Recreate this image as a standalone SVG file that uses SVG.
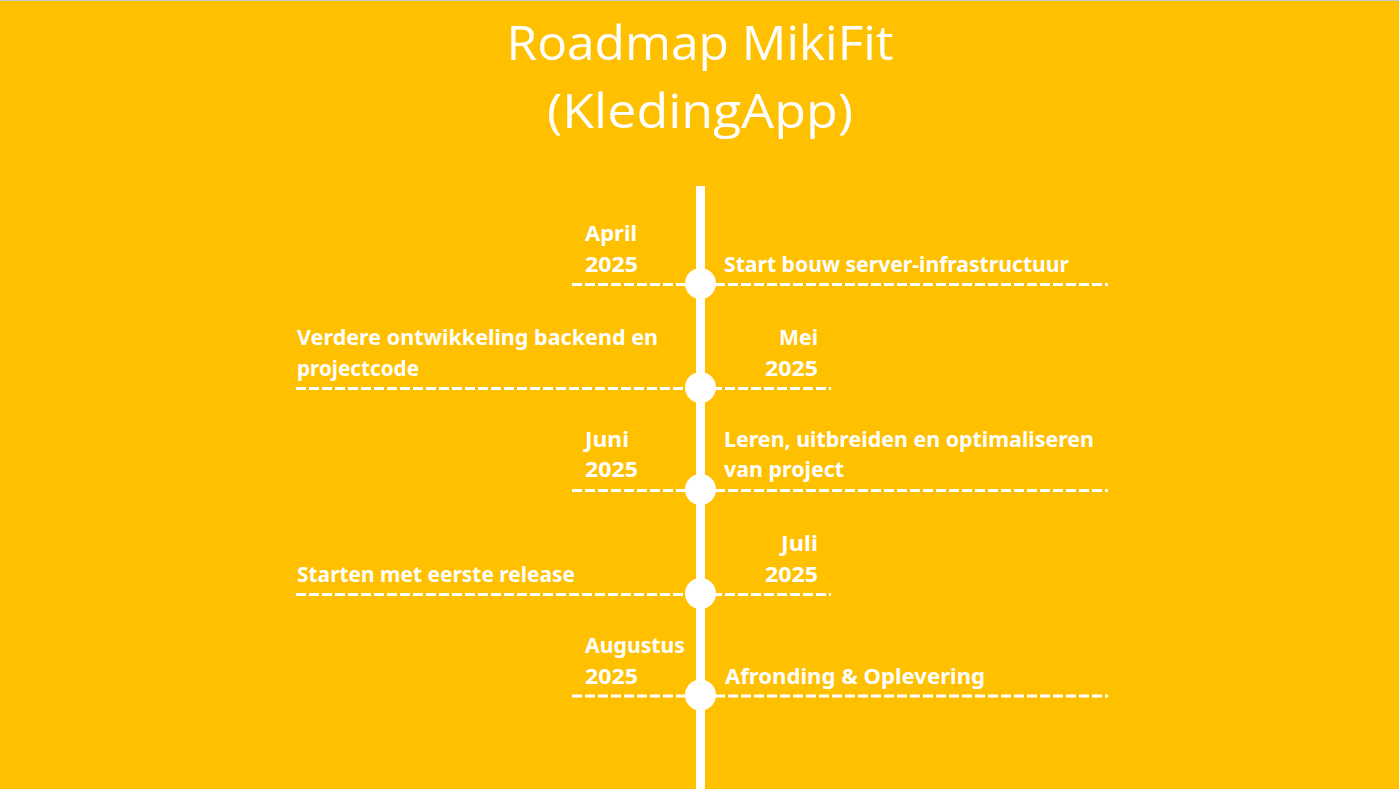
<svg xmlns="http://www.w3.org/2000/svg" width="1399" height="789" viewBox="0 0 1399 789">
<style>
.title{font-family:"Open Sans","Liberation Sans",sans-serif;font-size:48px;fill:#fff;text-anchor:middle}
.t{font-family:"Noto Sans","Liberation Sans",sans-serif;font-weight:bold;font-size:21px;fill:#fff}
.r{text-anchor:end}
.dash{stroke:#fff;stroke-width:3;stroke-dasharray:10 3;fill:none}
.dot{fill:#fff}
</style>
<rect x="0" y="0" width="1399" height="789" fill="#FFC000"/>
<rect x="0" y="0" width="1399" height="1" fill="#c8c8c8"/>
<g id="title">
<text class="title" x="700" y="60" textLength="387" lengthAdjust="spacingAndGlyphs">Roadmap MikiFit</text>
<text class="title" x="700" y="128" textLength="306" lengthAdjust="spacingAndGlyphs">(KledingApp)</text>
</g>
<g id="connectors">
<rect x="696" y="186" width="9" height="603" fill="#fff"/>
<line class="dash" x1="572" y1="284.5" x2="1108" y2="284.5"/>
<line class="dash" x1="296" y1="388.5" x2="831" y2="388.5"/>
<line class="dash" x1="572" y1="490.5" x2="1108" y2="490.5"/>
<line class="dash" x1="296" y1="594.5" x2="831" y2="594.5"/>
<line class="dash" x1="572" y1="696" x2="1108" y2="696"/>
</g>
<g id="april">
<circle class="dot" cx="700.5" cy="283.5" r="15.5"/>
<text class="t" x="585" y="241" textLength="52" lengthAdjust="spacingAndGlyphs">April</text>
<text class="t" x="585" y="272" textLength="53" lengthAdjust="spacingAndGlyphs">2025</text>
<text class="t" x="724" y="272" textLength="345" lengthAdjust="spacingAndGlyphs">Start bouw server-infrastructuur</text>
</g>
<g id="mei">
<circle class="dot" cx="700.5" cy="387.5" r="15.5"/>
<text class="t" x="779" y="345" textLength="39" lengthAdjust="spacingAndGlyphs">Mei</text>
<text class="t" x="765" y="376" textLength="53" lengthAdjust="spacingAndGlyphs">2025</text>
<text class="t" x="297" y="345" textLength="361" lengthAdjust="spacingAndGlyphs">Verdere ontwikkeling backend en</text>
<text class="t" x="297" y="376" textLength="122" lengthAdjust="spacingAndGlyphs">projectcode</text>
</g>
<g id="juni">
<circle class="dot" cx="700.5" cy="489.5" r="15.5"/>
<text class="t" x="585" y="447" textLength="44" lengthAdjust="spacingAndGlyphs">Juni</text>
<text class="t" x="585" y="477" textLength="53" lengthAdjust="spacingAndGlyphs">2025</text>
<text class="t" x="724" y="447" textLength="370" lengthAdjust="spacingAndGlyphs">Leren, uitbreiden en optimaliseren</text>
<text class="t" x="724" y="477" textLength="120" lengthAdjust="spacingAndGlyphs">van project</text>
</g>
<g id="juli">
<circle class="dot" cx="700.5" cy="593.5" r="15.5"/>
<text class="t" x="781" y="551" textLength="37" lengthAdjust="spacingAndGlyphs">Juli</text>
<text class="t" x="765" y="582" textLength="53" lengthAdjust="spacingAndGlyphs">2025</text>
<text class="t" x="297" y="582" textLength="278" lengthAdjust="spacingAndGlyphs">Starten met eerste release</text>
</g>
<g id="augustus">
<circle class="dot" cx="700.5" cy="695" r="15.5"/>
<text class="t" x="585" y="653" textLength="100" lengthAdjust="spacingAndGlyphs">Augustus</text>
<text class="t" x="585" y="684" textLength="53" lengthAdjust="spacingAndGlyphs">2025</text>
<text class="t" x="725" y="684" textLength="260" lengthAdjust="spacingAndGlyphs">Afronding &amp; Oplevering</text>
</g>
</svg>
